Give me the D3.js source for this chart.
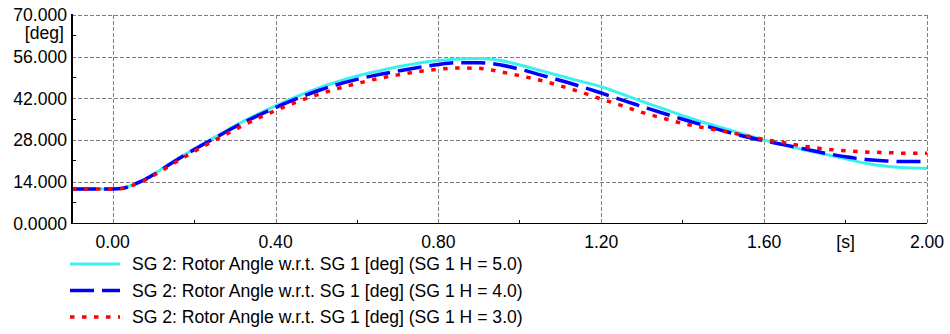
<!DOCTYPE html>
<html>
<head>
<meta charset="utf-8">
<script src="https://cdn.jsdelivr.net/npm/d3@7"></script>
<style>
  body { margin: 0; background: #fff; }
  svg { display: block; font-family: "Liberation Sans", Arial, sans-serif; }
  .tick-label { font-size: 17.6px; fill: #000; }
  .legend-text { font-size: 17.6px; fill: #000; }
</style>
</head>
<body>
<svg width="950" height="334"></svg>
<script>
const time = [-0.1, 0, 0.025, 0.05, 0.075, 0.1, 0.15, 0.2, 0.25, 0.3, 0.35, 0.4, 0.45, 0.5, 0.55, 0.6,
  0.65, 0.7, 0.75, 0.8, 0.85, 0.9, 0.95, 1.0, 1.05, 1.1, 1.15, 1.2, 1.25, 1.3, 1.35, 1.4, 1.45, 1.5,
  1.55, 1.6, 1.65, 1.7, 1.75, 1.8, 1.85, 1.9, 1.95, 2.0];

const angleH5 = [11.6, 11.6, 11.8, 13.0, 14.6, 16.5, 20.9, 25.0, 28.9, 32.8, 36.3, 39.5, 42.5, 45.2, 47.5, 49.5,
  51.1, 52.6, 53.8, 54.7, 55.2, 55.4, 54.8, 53.2, 51.4, 49.5, 47.7, 45.9, 43.5, 41.0, 38.6, 36.2, 34.0, 32.0,
  30.0, 28.0, 26.3, 24.7, 23.2, 21.7, 20.2, 19.2, 18.7, 18.5];

const angleH4 = [11.6, 11.6, 11.8, 13.0, 14.5, 16.4, 20.7, 24.8, 28.6, 32.4, 35.8, 38.9, 41.8, 44.4, 46.6, 48.4,
  49.9, 51.2, 52.4, 53.4, 54.0, 54.0, 53.3, 51.8, 49.9, 48.0, 46.0, 43.8, 41.5, 39.3, 37.1, 35.0, 33.0, 31.1,
  29.3, 27.8, 26.4, 25.0, 23.6, 22.4, 21.5, 21.0, 20.8, 20.8];

const angleH3 = [11.6, 11.6, 11.8, 12.9, 14.3, 16.1, 20.2, 24.2, 27.9, 31.5, 34.9, 37.9, 40.7, 43.1, 45.2, 47.0,
  48.6, 49.9, 51.0, 51.8, 52.2, 52.1, 51.0, 49.6, 48.1, 46.2, 44.1, 41.8, 39.6, 37.3, 35.4, 33.6, 32.2, 31.0,
  29.6, 28.2, 27.1, 25.9, 25.0, 24.4, 24.0, 23.8, 23.6, 23.6];

const seriesNames = [
  "SG 2: Rotor Angle w.r.t. SG 1 [deg] (SG 1 H = 5.0)",
  "SG 2: Rotor Angle w.r.t. SG 1 [deg] (SG 1 H = 4.0)",
  "SG 2: Rotor Angle w.r.t. SG 1 [deg] (SG 1 H = 3.0)"
];

const xTicks = [0, 0.4, 0.8, 1.2, 1.6, 2.0];
const xMinorTicks = [0.2, 0.6, 1.0, 1.4, 1.8];
const yTicks = [0, 14, 28, 42, 56, 70];
const yMinorTicks = [7, 21, 35, 49, 63];

const styles = [
  {color: "#3cf0f0", width: 3, dash: null},
  {color: "#0000ff", width: 3.5, dash: "24,8"},
  {color: "#ff0000", width: 3.5, dash: "4.5,7.5"}
];

const svg = d3.select("svg");
const plot = {left: 72, right: 927, top: 15, bottom: 223.5};

const x = d3.scaleLinear().domain([-0.1, 2.0]).range([plot.left, plot.right]);
const y = d3.scaleLinear().domain([0, 70]).range([plot.bottom, plot.top]);

// grid
const grid = svg.append("g").attr("stroke", "#808080").attr("stroke-width", 1)
  .attr("stroke-dasharray", "4,2").attr("shape-rendering", "crispEdges");
grid.selectAll(".gx").data(xTicks).join("line")
  .attr("x1", d => Math.round(x(d)) + 0.5).attr("x2", d => Math.round(x(d)) + 0.5)
  .attr("y1", plot.top).attr("y2", plot.bottom);
grid.selectAll(".gy").data(yTicks.filter(d => d > 0)).join("line")
  .attr("x1", plot.left).attr("x2", plot.right)
  .attr("y1", d => Math.round(y(d)) + 0.5).attr("y2", d => Math.round(y(d)) + 0.5);

svg.append("defs").append("clipPath").attr("id", "clip")
  .append("rect").attr("x", plot.left).attr("y", plot.top - 5)
  .attr("width", plot.right - plot.left).attr("height", plot.bottom - plot.top + 5);

// curves
const line = d3.line().x((d, i) => x(time[i])).y(d => y(d)).curve(d3.curveMonotoneX);
const allSeries = [angleH5, angleH4, angleH3];
svg.append("g").attr("clip-path", "url(#clip)")
  .selectAll("path").data(allSeries).join("path")
  .attr("fill", "none")
  .attr("stroke", (d, i) => styles[i].color)
  .attr("stroke-width", (d, i) => styles[i].width)
  .attr("stroke-dasharray", (d, i) => styles[i].dash)
  .attr("d", line);

// axes
const ax = svg.append("g").attr("stroke", "#000").attr("shape-rendering", "crispEdges");
ax.append("line").attr("x1", plot.left).attr("x2", plot.left)
  .attr("y1", plot.top - 1).attr("y2", plot.bottom).attr("stroke-width", 1.5);
ax.append("line").attr("x1", plot.left).attr("x2", plot.right)
  .attr("y1", plot.bottom).attr("y2", plot.bottom).attr("stroke-width", 1.5);
ax.selectAll(".mx").data(xMinorTicks).join("line")
  .attr("x1", d => x(d)).attr("x2", d => x(d)).attr("y1", plot.bottom).attr("y2", plot.bottom - 4);
ax.selectAll(".my").data(yMinorTicks).join("line")
  .attr("x1", plot.left).attr("x2", plot.left + 4).attr("y1", d => y(d)).attr("y2", d => y(d));

// tick labels
const yFmt = d => d === 0 ? "0.0000" : d3.format(".3f")(d);
svg.selectAll(".yl").data(yTicks).join("text")
  .attr("class", "tick-label")
  .attr("x", plot.left - 5).attr("y", d => y(d)).attr("dy", "0.35em")
  .attr("text-anchor", "end").text(yFmt);
svg.append("text").attr("class", "tick-label")
  .attr("x", plot.left - 8).attr("y", y(63)).attr("dy", "0.2em")
  .attr("text-anchor", "end").text("[deg]");

svg.selectAll(".xl").data(xTicks).join("text")
  .attr("class", "tick-label")
  .attr("x", d => x(d)).attr("y", plot.bottom + 24)
  .attr("text-anchor", "middle").text(d => d3.format(".2f")(d));
svg.append("text").attr("class", "tick-label")
  .attr("x", x(1.8)).attr("y", plot.bottom + 24)
  .attr("text-anchor", "middle").text("[s]");

// legend
const legend = svg.append("g");
const rows = legend.selectAll("g").data(seriesNames).join("g")
  .attr("transform", (d, i) => `translate(70,${264 + i * 26.5})`);
rows.append("line")
  .attr("x1", 0).attr("x2", 50).attr("y1", 0).attr("y2", 0)
  .attr("stroke", (d, i) => styles[i].color)
  .attr("stroke-width", (d, i) => styles[i].width)
  .attr("stroke-dasharray", (d, i) => styles[i].dash);
rows.append("text").attr("class", "legend-text")
  .attr("x", 62).attr("y", 0).attr("dy", "0.35em")
  .text(d => d);
</script>
</body>
</html>
